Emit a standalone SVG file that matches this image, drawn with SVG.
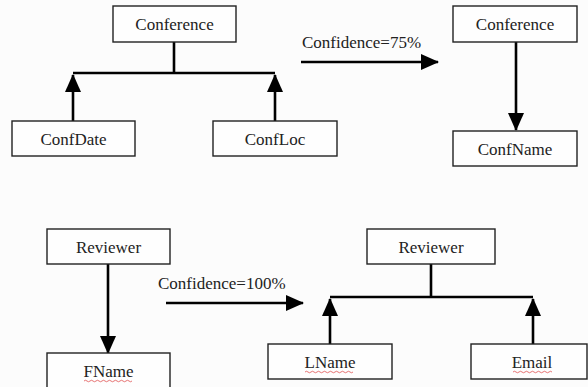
<svg xmlns="http://www.w3.org/2000/svg" width="588" height="387" viewBox="0 0 588 387">
<defs>
<style>
.box{fill:#fefefe;stroke:#222;stroke-width:1.4}
.t{font-family:"Liberation Serif","DejaVu Serif","Times New Roman",serif;font-size:17px;fill:#222;text-anchor:middle}
.lbl{font-family:"Liberation Serif","DejaVu Serif","Times New Roman",serif;font-size:17px;fill:#222}
.c{fill:none;stroke:#000;stroke-width:2.6}
.sq{fill:none;stroke:#e05050;stroke-width:0.8}
</style>
<marker id="ah" markerWidth="18" markerHeight="16" viewBox="0 0 18 16" refX="17" refY="8" orient="auto" markerUnits="userSpaceOnUse">
<path d="M0,0 L18,8 L0,16 Z" fill="#000"/>
</marker>
</defs>
<rect width="588" height="387" fill="#fcfcfc"/>
<g id="connectors">
<path class="c" d="M174,42 V73 M73,73 H275"/>
<path class="c" d="M73,121 V75" marker-end="url(#ah)"/>
<path class="c" d="M275,121 V75" marker-end="url(#ah)"/>
<path class="c" d="M301,62 H438" marker-end="url(#ah)"/>
<path class="c" d="M516,42 V130" marker-end="url(#ah)"/>
<path class="c" d="M108,264 V353" marker-end="url(#ah)"/>
<path class="c" d="M166,303 H303" marker-end="url(#ah)"/>
<path class="c" d="M431,264 V297 M330,297 H533"/>
<path class="c" d="M330,344 V299" marker-end="url(#ah)"/>
<path class="c" d="M533,344 V299" marker-end="url(#ah)"/>
</g>
<g id="label75"><text class="lbl" x="302" y="48" font-family="Liberation Serif, serif">Confidence=75%</text></g>
<g id="label100"><text class="lbl" x="158" y="289" font-family="Liberation Serif, serif">Confidence=100%</text></g>
<g id="conference1"><rect class="box" x="113" y="6" width="123" height="36"/><text class="t" x="174.5" y="30">Conference</text></g>
<g id="confdate"><rect class="box" x="12" y="121" width="123" height="35"/><text class="t" x="73.5" y="145">ConfDate</text></g>
<g id="confloc"><rect class="box" x="213" y="121" width="124" height="35"/><text class="t" x="275" y="145">ConfLoc</text></g>
<g id="conference2"><rect class="box" x="453" y="6" width="124" height="36"/><text class="t" x="515" y="30">Conference</text></g>
<g id="confname"><rect class="box" x="453" y="131" width="124" height="35"/><text class="t" x="515" y="155">ConfName</text></g>
<g id="reviewer1"><rect class="box" x="47" y="229" width="123" height="35"/><text class="t" x="108.5" y="253">Reviewer</text></g>
<g id="fname"><rect class="box" x="47" y="353" width="123" height="40"/><text class="t" x="108.5" y="377">FName</text>
<path class="sq" d="M84,381 q1.5,-1.5 3,0 t3,0 t3,0 t3,0 t3,0 t3,0 t3,0 t3,0 t3,0 t3,0 t3,0 t3,0 t3,0 t3,0 t3,0 t3,0"/></g>
<g id="reviewer2"><rect class="box" x="367" y="229" width="128" height="35"/><text class="t" x="431" y="253">Reviewer</text></g>
<g id="lname"><rect class="box" x="268" y="344" width="124" height="35"/><text class="t" x="330" y="368">LName</text>
<path class="sq" d="M305,372 q1.5,-1.5 3,0 t3,0 t3,0 t3,0 t3,0 t3,0 t3,0 t3,0 t3,0 t3,0 t3,0 t3,0 t3,0 t3,0 t3,0 t3,0"/></g>
<g id="email"><rect class="box" x="471" y="344" width="116" height="35"/><text class="t" x="532" y="368">Email</text>
<path class="sq" d="M513,372 q1.5,-1.5 3,0 t3,0 t3,0 t3,0 t3,0 t3,0 t3,0 t3,0 t3,0 t3,0 t3,0 t3,0 t3,0"/></g>
</svg>
